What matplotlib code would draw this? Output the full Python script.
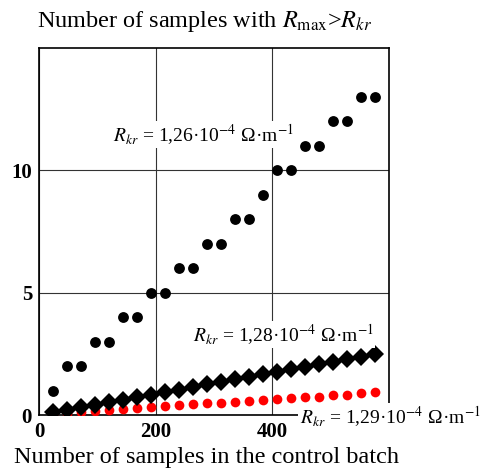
import numpy as np
import matplotlib
matplotlib.use("Agg")
import matplotlib.pyplot as plt

plt.rcParams["font.family"] = ["Liberation Serif", "DejaVu Serif"]
plt.rcParams["mathtext.fontset"] = "stix"

# control batch sizes
batch = [24, 48, 72, 96, 120, 144, 168, 192, 216, 240, 264, 288,
         312, 336, 360, 384, 408, 432, 456, 480, 504, 528, 552, 576]

# R_kr = 1.26e-4
n_126 = [1, 2, 2, 3, 3, 4, 4, 5, 5, 6, 6, 7,
         7, 8, 8, 9, 10, 10, 11, 11, 12, 12, 13, 13]
# R_kr = 1.28e-4
n_128 = [0.11, 0.21, 0.31, 0.42, 0.52, 0.62, 0.73, 0.83, 0.94, 1.04, 1.14, 1.25,
         1.35, 1.46, 1.56, 1.66, 1.77, 1.87, 1.98, 2.08, 2.18, 2.29, 2.39, 2.48]
# R_kr = 1.29e-4
n_129 = [0.04, 0.08, 0.12, 0.16, 0.20, 0.24, 0.28, 0.32, 0.36, 0.40, 0.44, 0.48,
         0.50, 0.54, 0.56, 0.62, 0.66, 0.70, 0.74, 0.74, 0.80, 0.82, 0.90, 0.95]

LBL_126 = r"$R_{kr}$ = 1,26·10$^{-4}$ Ω·m$^{-1}$"
LBL_128 = r"$R_{kr}$ = 1,28·10$^{-4}$ Ω·m$^{-1}$"
LBL_129 = r"$R_{kr}$ = 1,29·10$^{-4}$ Ω·m$^{-1}$"


def main():
    fig = plt.figure(figsize=(4.88, 4.73), dpi=100)
    ax = fig.add_axes([0.08, 0.1226, 0.717, 0.776])

    ax.plot(batch, n_129, "o", color="red", ms=7, mew=0, zorder=3)
    ax.plot(batch, n_128, "D", color="black", ms=9, mew=0, zorder=4)
    ax.plot(batch, n_126, "o", color="black", ms=7.8, mew=0, zorder=5)

    ax.set_xlim(0, 600)
    ax.set_ylim(0, 15)
    ax.set_xticks([0, 200, 400])
    ax.set_yticks([0, 5, 10])
    ax.tick_params(length=0, labelsize=15, pad=5)
    for lab in ax.get_xticklabels() + ax.get_yticklabels():
        lab.set_fontweight("bold")
    ax.grid(True, color="#333333", lw=0.8)
    for sp in ax.spines.values():
        sp.set_linewidth(1.2)

    box = dict(facecolor="white", edgecolor="none", pad=1)
    ax.text(0.21, 0.745, LBL_126, transform=ax.transAxes, fontsize=14,
            bbox=box, zorder=6)
    ax.text(0.44, 0.2, LBL_128, transform=ax.transAxes, fontsize=14,
            bbox=box, zorder=6)
    ax.text(0.745, -0.005, LBL_129, transform=ax.transAxes, fontsize=14,
            bbox=box, zorder=6, clip_on=False, va="center")

    fig.text(0.076, 0.955, r"Number of samples with $R_{\mathrm{max}}$>$R_{kr}$",
             fontsize=17.5, va="center")
    fig.text(0.028, 0.032, "Number of samples in the control batch",
             fontsize=17.5, va="center")

    fig.savefig("out.png", dpi=100)


if __name__ == "__main__":
    main()
